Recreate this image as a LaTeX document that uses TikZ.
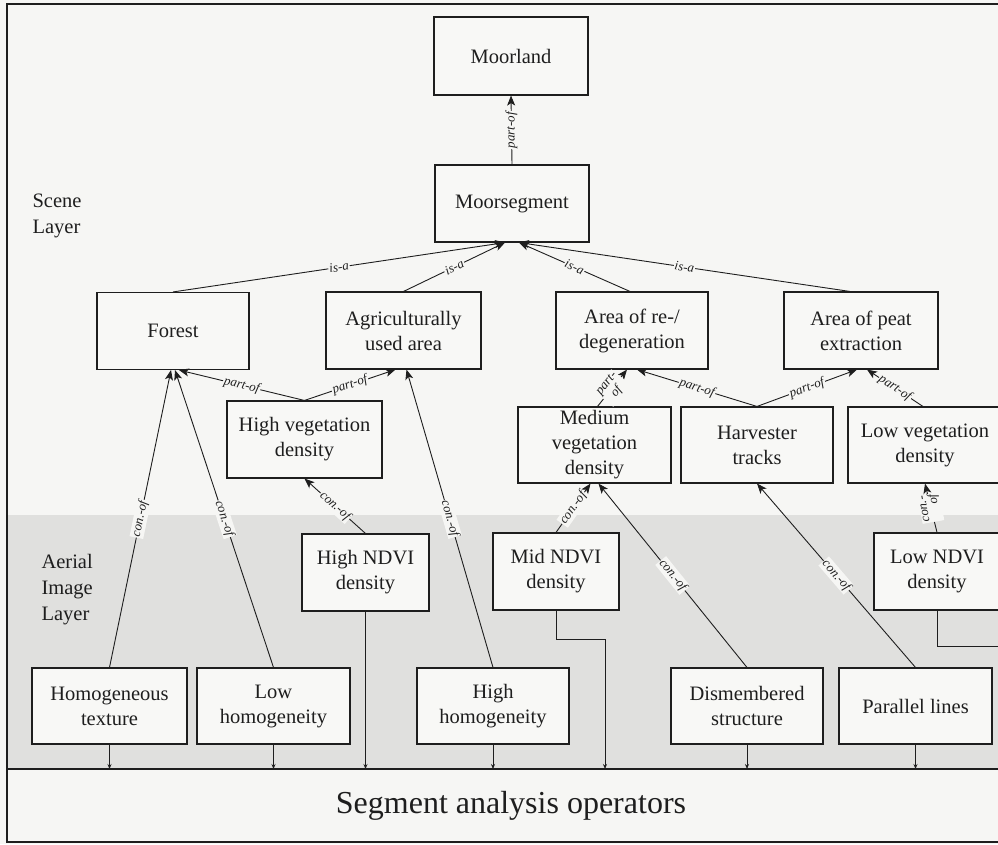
\documentclass[tikz,border=0pt]{standalone}
\usepackage{fontspec}
\setmainfont{Liberation Serif}
\usetikzlibrary{arrows.meta,calc}
\definecolor{bgc}{RGB}{246,246,244}
\definecolor{shadec}{RGB}{224,224,222}
\definecolor{boxc}{RGB}{248,248,246}
\definecolor{inkc}{RGB}{30,30,30}
\begin{document}
\begin{tikzpicture}[x=1pt,y=-1pt,
  box/.style={draw=inkc, fill=boxc, line width=1.1pt, align=center, inner sep=2pt,
    font=\fontsize{20.5}{25}\selectfont, text=inkc},
  rel/.style={draw=inkc, line width=0.9pt, -{Stealth[length=10pt,width=8pt,inset=2.5pt]}},
  labfix/.style={midway, fill=bgc, inner sep=1pt,
    font=\fontsize{13}{11}\selectfont\itshape, text=inkc},
  lab/.style={labfix, sloped},
  op/.style={draw=inkc, line width=0.9pt, -{Stealth[length=5pt,width=4pt]}},
  layer/.style={anchor=west, align=left, font=\fontsize{20.5}{26}\selectfont, text=inkc},
  frameline/.style={draw=inkc, line width=1.3pt}]
\useasboundingbox (0,0) rectangle (998,844);
\clip (0,0) rectangle (998,844);
% background and layers
\fill[bgc] (0,0) rectangle (998,844);
\fill[shadec] (7,515) rectangle (998,769);
\draw[frameline] (1010,4) -- (7,4) -- (7,842) -- (1010,842);
\draw[frameline] (7,769) -- (1010,769);
\coordinate (sep) at (0,769);
% layer labels
\node[layer] (scene) at (29,216) {Scene\\Layer};
\node[layer] (aerial) at (38,590) {Aerial\\Image\\Layer};
\node[font=\fontsize{32}{36}\selectfont, text=inkc] (ops) at (511,806) {Segment analysis operators};
% scene layer boxes
\node[box, minimum width=154pt, minimum height=78pt] (moorland) at (511,56) {Moorland};
\node[box, minimum width=154pt, minimum height=77pt] (moorseg) at (512,203.5) {Moorsegment};
\node[box, minimum width=152pt, minimum height=77pt] (forest) at (173,331) {Forest};
\node[box, minimum width=155pt, minimum height=77pt] (agri) at (403.5,330.5) {Agriculturally\\used area};
\node[box, minimum width=152pt, minimum height=77pt] (regen) at (632,330.5) {Area of re-/\\degeneration};
\node[box, minimum width=154pt, minimum height=77pt] (peat) at (861,330.5) {Area of peat\\extraction};
\node[box, minimum width=155pt, minimum height=77pt] (hveg) at (304.5,439.5) {High vegetation\\density};
\node[box, minimum width=153pt, minimum height=76pt] (mveg) at (594.5,445) {Medium\\vegetation\\density};
\node[box, minimum width=152pt, minimum height=76pt] (harv) at (757,445) {Harvester\\tracks};
\node[box, minimum width=154pt, minimum height=76pt] (lveg) at (925,445) {Low vegetation\\density};
% aerial image layer boxes
\node[box, minimum width=127pt, minimum height=77pt] (hndvi) at (365.5,572.5) {High NDVI\\density};
\node[box, minimum width=126pt, minimum height=77pt] (mndvi) at (556,571.5) {Mid NDVI\\density};
\node[box, minimum width=126pt, minimum height=77pt] (lndvi) at (937,571.5) {Low NDVI\\density};
\node[box, minimum width=155pt, minimum height=76pt] (homtex) at (109.5,706) {Homogeneous\\texture};
\node[box, minimum width=153pt, minimum height=76pt] (lowhom) at (273.5,706) {Low\\homogeneity};
\node[box, minimum width=152pt, minimum height=76pt] (highhom) at (493,706) {High\\homogeneity};
\node[box, minimum width=152pt, minimum height=76pt] (dismem) at (747,706) {Dismembered\\structure};
\node[box, minimum width=153pt, minimum height=76pt] (parallel) at (915.5,706) {Parallel lines};
% relations
\draw[rel] (moorseg.north) -- node[labfix, rotate=90] {part-of} (moorland.south);
\draw[rel] (forest.north) -- node[lab] {is-a} ([xshift=-7pt]moorseg.south);
\draw[rel] (agri.north) -- node[lab] {is-a} ([xshift=-7pt]moorseg.south);
\draw[rel] ([xshift=-2pt]regen.north) -- node[lab] {is-a} ([xshift=7pt]moorseg.south);
\draw[rel] ([xshift=-11pt]peat.north) -- node[lab] {is-a} ([xshift=7pt]moorseg.south);
\draw[rel] (hveg.north) -- node[lab] {part-of} ([xshift=6pt]forest.south);
\draw[rel] (hveg.north) -- node[lab] {part-of} ([xshift=-8pt]agri.south);
\draw[rel] (homtex.north) -- node[lab] {con.-of} ([xshift=-2pt]forest.south);
\draw[rel] (lowhom.north) -- node[lab] {con.-of} ([xshift=2pt]forest.south);
\draw[rel] (highhom.north) -- node[lab] {con.-of} ([xshift=3pt]agri.south);
\draw[rel] (hndvi.north) -- node[lab] {con.-of} (hveg.south);
\draw[rel] ([xshift=3pt]mveg.north) -- node[lab, align=center] {part-\\of} ([xshift=-5pt]regen.south);
\draw[rel] (harv.north) -- node[lab] {part-of} ([xshift=5pt]regen.south);
\draw[rel] (harv.north) -- node[lab] {part-of} ([xshift=-4pt]peat.south);
\draw[rel] ([xshift=-2pt]lveg.north) -- node[lab] {part-of} ([xshift=6pt]peat.south);
\draw[rel] (mndvi.north) -- node[lab] {con.-of} ([xshift=-4pt]mveg.south);
\draw[rel] (dismem.north) -- node[lab] {con.-of} ([xshift=4pt]mveg.south);
\draw[rel] (parallel.north) -- node[lab] {con.-of} (harv.south);
\draw[rel] (lndvi.north) -- node[labfix, rotate=100, align=right] {con.-\\of} (lveg.south);
% links to segment analysis operators
\draw[op] (homtex.south) -- (homtex.south |- sep);
\draw[op] (lowhom.south) -- (lowhom.south |- sep);
\draw[op] (hndvi.south) -- (hndvi.south |- sep);
\draw[op] (highhom.south) -- (highhom.south |- sep);
\coordinate (mbend) at (605,639);
\draw[op] (mndvi.south) |- (mbend) -- (mbend |- sep);
\draw[op] (dismem.south) -- (dismem.south |- sep);
\draw[op] (parallel.south) -- (parallel.south |- sep);
\coordinate (lend) at (1010,646);
\draw[draw=inkc, line width=0.9pt] (lndvi.south) |- (lend);
\end{tikzpicture}
\end{document}
